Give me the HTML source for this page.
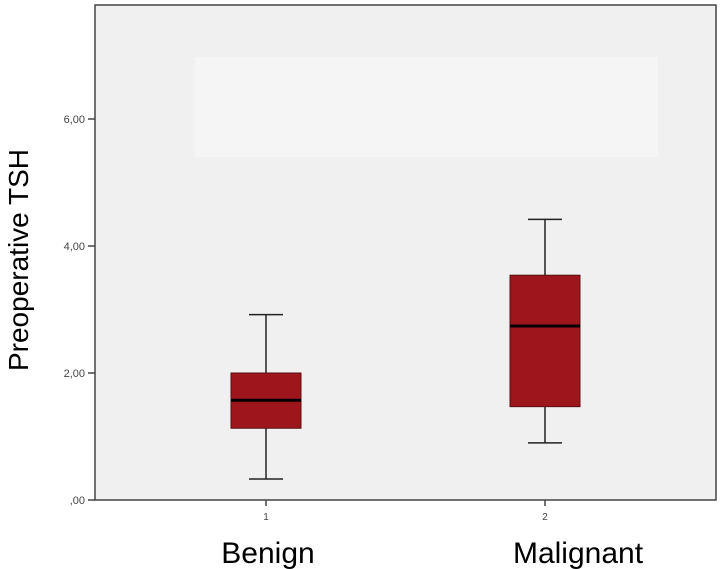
<!DOCTYPE html>
<html><head><meta charset="utf-8"><style>
body{margin:0;background:#fff;overflow:hidden;}
svg{display:block;font-family:"Liberation Sans",sans-serif;}
</style></head><body>
<svg id="chart" width="721" height="569" viewBox="0 0 721 569">
  <rect x="95" y="5" width="621" height="495" fill="#f0f0f0"/>
  <rect x="195" y="57" width="463" height="100" fill="#f5f5f5"/>
  <g id="marks"></g>
  <rect x="95" y="5" width="621" height="495" fill="none" stroke="#444" stroke-width="1.5"/>
  <g id="yaxis"></g>
  <g id="xaxis"></g>
  <text transform="translate(28,260) rotate(-90)" text-anchor="middle" font-size="28" fill="#000">Preoperative TSH</text>
</svg>
<script>
const categories = ["Benign", "Malignant"];
const catTicks = ["1", "2"];
const whiskerLow = [0.33, 0.90];
const q1Values = [1.13, 1.47];
const medians = [1.57, 2.74];
const q3Values = [2.00, 3.54];
const whiskerHigh = [2.92, 4.42];
const yTicks = [0, 2, 4, 6];
const yTickLabels = [",00", "2,00", "4,00", "6,00"];

const NS = "http://www.w3.org/2000/svg";
const y = v => 500 - v * 63.5;
const x = i => 266 + i * 279;
function mk(tag, attrs, parent){const e=document.createElementNS(NS,tag);for(const k in attrs)e.setAttribute(k,attrs[k]);parent.appendChild(e);return e;}
const marks=document.getElementById('marks'), ya=document.getElementById('yaxis'), xa=document.getElementById('xaxis');
yTicks.forEach((v,i)=>{
  const t=mk('line',{x1:88,x2:95,y1:y(v),y2:y(v),stroke:'#444','stroke-width':1.5},ya);
  
  
  const l=mk('text',{x:85,y:y(v)+4,'text-anchor':'end','font-size':11,fill:'#444'},ya);
  l.textContent=yTickLabels[i];
  
  
});
categories.forEach((c,i)=>{
  const cx=x(i), hw=35, cap=17;
  const g=mk('g',{},marks);
  
  
  mk('line',{x1:cx,x2:cx,y1:y(whiskerHigh[i]),y2:y(q3Values[i]),stroke:'#222','stroke-width':1.5},g);
  mk('line',{x1:cx,x2:cx,y1:y(q1Values[i]),y2:y(whiskerLow[i]),stroke:'#222','stroke-width':1.5},g);
  mk('line',{x1:cx-cap,x2:cx+cap,y1:y(whiskerHigh[i]),y2:y(whiskerHigh[i]),stroke:'#222','stroke-width':1.5},g);
  mk('line',{x1:cx-cap,x2:cx+cap,y1:y(whiskerLow[i]),y2:y(whiskerLow[i]),stroke:'#222','stroke-width':1.5},g);
  mk('rect',{x:cx-hw,y:y(q3Values[i]),width:hw*2,height:y(q1Values[i])-y(q3Values[i]),fill:'#9c161c',stroke:'#5a1010','stroke-width':1},g);
  mk('line',{x1:cx-hw,x2:cx+hw,y1:y(medians[i]),y2:y(medians[i]),stroke:'#000','stroke-width':3},g);
  const t=mk('line',{x1:cx,x2:cx,y1:500,y2:506,stroke:'#444','stroke-width':1.5},xa);
  
  
  const tl=mk('text',{x:cx,y:520,'text-anchor':'middle','font-size':10,fill:'#444'},xa);
  tl.textContent=catTicks[i];
  
  
  const cl=mk('text',{x:268+i*310,y:563,'text-anchor':'middle','font-size':30,fill:'#000'},xa);
  cl.textContent=c;
  
  
});
</script>
</body></html>
